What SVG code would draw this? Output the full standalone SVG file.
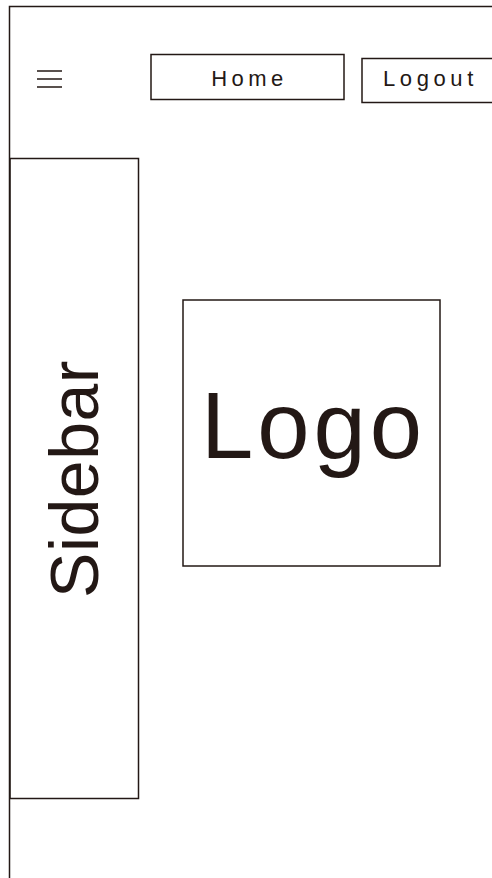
<svg xmlns="http://www.w3.org/2000/svg" width="492" height="878" viewBox="0 0 492 878">
<style>
.ln{fill:none;stroke:#231815;stroke-width:1.5}
.t{font-family:"Liberation Sans",Arial,sans-serif;fill:#231815}
</style>
<rect width="492" height="878" fill="#fff"/>
<g id="frame"><path class="ln" d="M9.5 878V6.5H492"/></g>
<g id="menu"><path d="M37 71H62M37 79H62M37 87H62" stroke="#231815" stroke-width="1.5" fill="none"/></g>
<g id="home"><rect class="ln" x="151" y="54.5" width="193" height="45"/><text class="t" x="249.5" y="86" font-size="22" letter-spacing="4.5" text-anchor="middle">Home</text></g>
<g id="logout"><rect class="ln" x="362" y="58.5" width="140" height="44"/><text class="t" x="383" y="86" font-size="22" letter-spacing="4.6">Logout</text></g>
<g id="sidebar"><rect class="ln" x="10" y="158.5" width="128.5" height="640"/><text class="t" transform="translate(98 479) rotate(-90)" font-size="68" letter-spacing="0.5" text-anchor="middle">Sidebar</text></g>
<g id="logo"><rect class="ln" x="183" y="300" width="257" height="266"/><text class="t" x="313.5" y="458" font-size="94" letter-spacing="4" text-anchor="middle">Logo</text></g>
<g id="connectors"></g>
</svg>
